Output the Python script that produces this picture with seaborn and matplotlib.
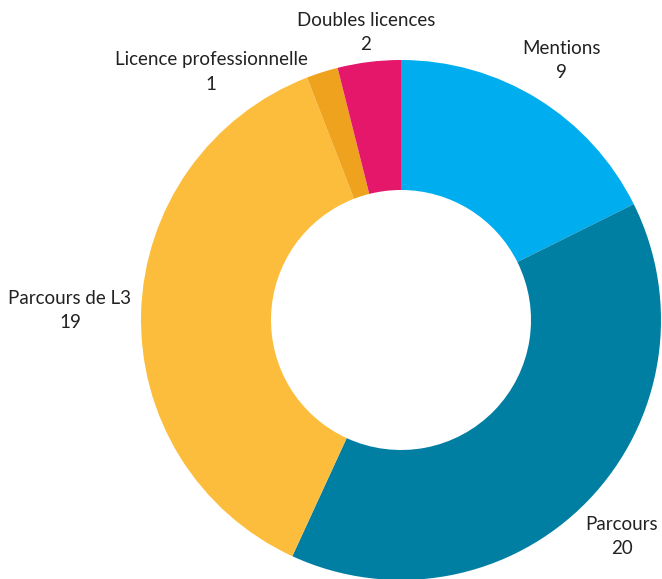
import matplotlib
matplotlib.use("Agg")
import matplotlib.pyplot as plt
import seaborn as sns

categories = ["Mentions", "Parcours", "Parcours de L3", "Licence professionnelle", "Doubles licences"]
values = [9, 20, 19, 1, 2]
colors = ["#00AEEF", "#007FA3", "#FDBD3C", "#EFA21E", "#E4176A"]

sns.set_theme(style="white")
plt.rcParams["font.family"] = ["Lato", "DejaVu Sans"]

fig = plt.figure(figsize=(6.62, 5.79), dpi=100)
ax = fig.add_axes([0, 0, 1, 1])
ax.pie(values, colors=colors, startangle=90, counterclock=False,
       radius=260, center=(401, 259),
       wedgeprops=dict(width=130, edgecolor="none", linewidth=0))
ax.set_xlim(0, 662)
ax.set_ylim(0, 579)
ax.set_aspect("equal")
ax.axis("off")

# label positions (pixel coords from top-left)
label_pos = [(561, 60), (622, 536), (70, 311), (211, 72), (366, 33)]
for name, val, (x, y) in zip(categories, values, label_pos):
    ax.text(x, 579 - y, f"{name}\n{val}", ha="center", va="center",
            fontsize=13.5, color="#222222", linespacing=1.5)

fig.savefig("out.png", dpi=100)
